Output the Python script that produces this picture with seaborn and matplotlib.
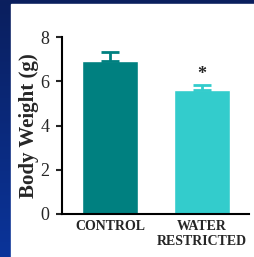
import numpy as np
import pandas as pd
import matplotlib
matplotlib.use("Agg")
import matplotlib.pyplot as plt
import seaborn as sns
from matplotlib.colors import LinearSegmentedColormap

categories = ["CONTROL", "WATER\nRESTRICTED"]
means = [6.9, 5.62]
sems = [0.4, 0.2]
colors = ["#008080", "#33CCCC"]
yticks = [0, 2, 4, 6, 8]

sns.set_style("ticks")
plt.rcParams["font.family"] = ["Liberation Serif", "DejaVu Serif"]

W, H = 254, 257
fig = plt.figure(figsize=(W / 100, H / 100), dpi=100)

# background gradient border
bg = fig.add_axes([0, 0, 1, 1], zorder=-10)
grad = np.linspace(0, 1, 100).reshape(-1, 1)
cmap = LinearSegmentedColormap.from_list("b", ["#0b1f5e", "#0a349a"])
bg.imshow(grad, aspect="auto", cmap=cmap, extent=[0, 1, 0, 1], origin="upper")
bg.add_patch(plt.Rectangle((11 / W, 0), 1, 1 - 4 / H, color="white", transform=bg.transAxes))
bg.set_xlim(0, 1); bg.set_ylim(0, 1)
bg.axis("off")

ax = fig.add_axes([62 / W, 1 - 214 / H, (249 - 62) / W, (214 - 37) / H])
df = pd.DataFrame({"group": categories, "weight": means})
sns.barplot(data=df, x="group", y="weight", hue="group", palette=colors,
            errorbar=None, width=0.61, ax=ax, legend=False, saturation=1)
for i, (m, s, c) in enumerate(zip(means, sems, colors)):
    ax.errorbar(i, m, yerr=[[0], [s]], fmt="none", ecolor=c, elinewidth=2,
                capsize=6.5, capthick=2, zorder=3)
ax.text(1, means[1] + sems[1] + 0.08, "*", ha="center", va="bottom",
        fontsize=13, fontweight="bold")

ax.set_xlim(-0.52, 1.51)
ax.set_ylim(0, 8)
ax.set_yticks(yticks)
ax.set_yticklabels([str(t) for t in yticks], fontsize=13)
ax.set_xticks([0, 1])
ax.set_xticklabels(categories, fontsize=10, fontweight="bold", linespacing=1.25)
ax.tick_params(axis="x", length=0, pad=4)
ax.tick_params(axis="y", length=4, width=1.5, pad=5)
ax.set_xlabel("")
ax.set_ylabel("Body Weight (g)", fontsize=15, fontweight="bold", labelpad=1)
for sp in ["top", "right"]:
    ax.spines[sp].set_visible(False)
for sp in ["left", "bottom"]:
    ax.spines[sp].set_linewidth(1.5)
    ax.spines[sp].set_color("black")
ax.set_facecolor("white")

fig.savefig("out.png", dpi=100)
